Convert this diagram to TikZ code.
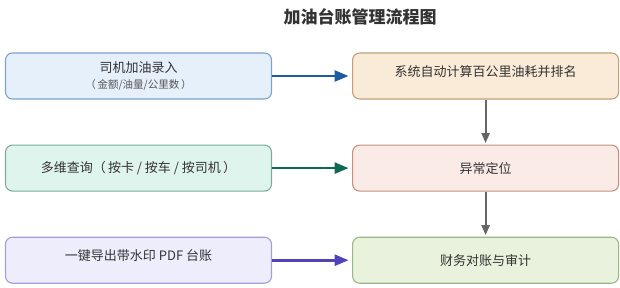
\documentclass[tikz,border=0pt]{standalone}
\usepackage{fontspec}
\setmainfont{Noto Sans CJK SC}
\usepackage{tikz}
\usetikzlibrary{positioning, arrows.meta}

\definecolor{txt}{HTML}{333333}
\definecolor{subtxt}{HTML}{555555}
\definecolor{blueline}{HTML}{1F5B9E}
\definecolor{greenline}{HTML}{0E6B50}
\definecolor{purpleline}{HTML}{4E44B8}
\definecolor{grayline}{HTML}{666666}
\definecolor{bluefill}{HTML}{E6F0FB}
\definecolor{blueedge}{HTML}{7BA3D1}
\definecolor{greenfill}{HTML}{E0F4EE}
\definecolor{greenedge}{HTML}{7AAE9C}
\definecolor{purplefill}{HTML}{EEEDFC}
\definecolor{purpleedge}{HTML}{A49CDC}
\definecolor{orangefill}{HTML}{FAEBD8}
\definecolor{orangeedge}{HTML}{BFA07A}
\definecolor{redfill}{HTML}{FAEBE7}
\definecolor{rededge}{HTML}{C98E7E}
\definecolor{olivefill}{HTML}{E9F2DC}
\definecolor{oliveedge}{HTML}{9DB687}
\newcommand{\liftline}[1]{\raisebox{4.5pt}[\height][\depth]{#1}}

\begin{document}
\begin{tikzpicture}[
        x=1pt, y=1pt,
        node distance=45pt and 80pt,
        box/.style={draw, rectangle, rounded corners=7pt, line width=1.1pt, align=center, text=txt,
            font=\fontsize{13}{18}\selectfont, minimum height=46pt, minimum width=266pt, inner sep=0pt},
        heading/.style={font=\fontsize{17}{20}\selectfont\bfseries, text=txt},
        arrow/.style={-{Triangle[length=14pt, width=11pt]}, line width=2.6pt, shorten >=3.5pt},
        down/.style={-{Triangle[length=10pt, width=8pt]}, line width=2pt, grayline, shorten >=1.5pt}
    ]
    \useasboundingbox (0,0) rectangle (620,287);
    % Title
    \node[heading] (title) at (360,270.5) {加油台账管理流程图};

    % Left column
    \node[box, fill=bluefill, draw=blueedge] (entry) at (138.5,211) {司机加油录入\\[-2pt]{\fontsize{10.5}{14}\selectfont\color{subtxt} （\,金额/油量/公里数\,）}};
    \node[box, fill=greenfill, draw=greenedge, below=of entry] (query) {多维查询（\,按卡 / 按车 / 按司机\,）};
    \node[box, fill=purplefill, draw=purpleedge, below=of query] (export) {\liftline{一键导出带水印 PDF 台账}};

    % Right column
    \node[box, fill=orangefill, draw=orangeedge, right=of entry] (rank) {\liftline{系统自动计算百公里油耗并排名}};
    \node[box, fill=redfill, draw=rededge, right=of query] (anomaly) {异常定位};
    \node[box, fill=olivefill, draw=oliveedge, right=of export] (audit) {财务对账与审计};

    % Arrows
    \draw[arrow, blueline] (entry.east) -- (rank.west);
    \draw[arrow, greenline] (query.east) -- (anomaly.west);
    \draw[arrow, purpleline] (export.east) -- (audit.west);
    \draw[down] (rank.south) -- (anomaly.north);
    \draw[down] (anomaly.south) -- (audit.north);
\end{tikzpicture}
\end{document}
